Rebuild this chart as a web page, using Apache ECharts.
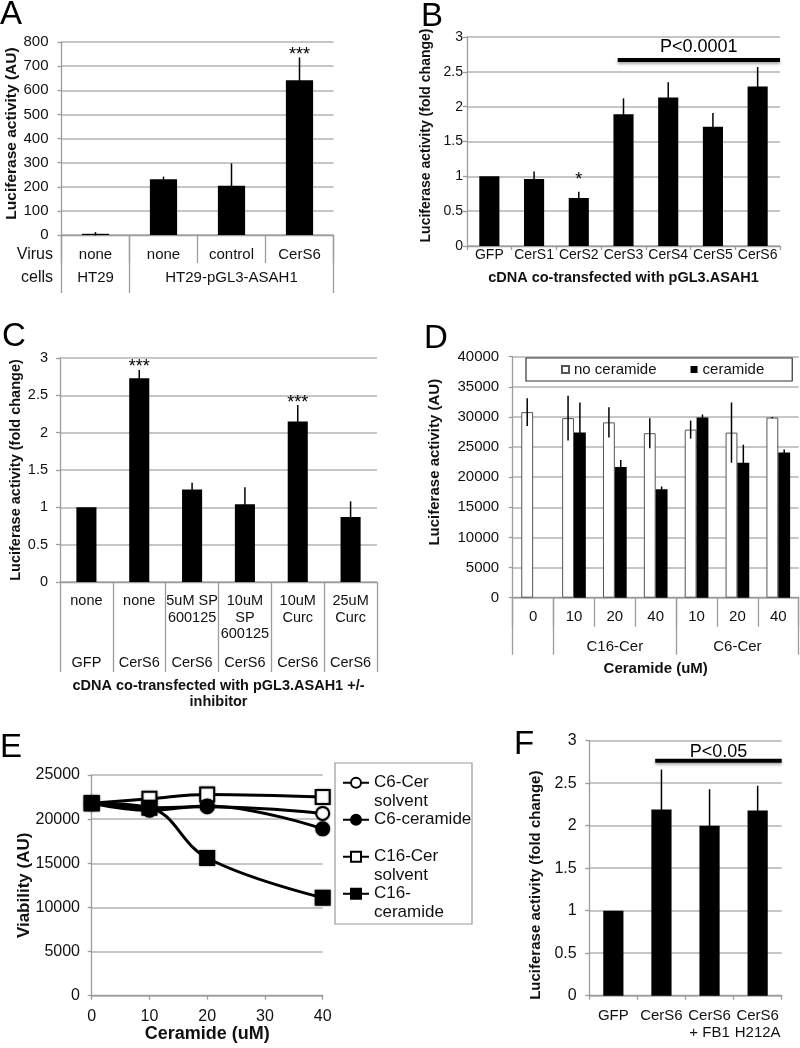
<!DOCTYPE html>
<html><head><meta charset="utf-8">
<script src="https://cdn.jsdelivr.net/npm/echarts@6/dist/echarts.min.js"></script>
<style>html,body{margin:0;padding:0;background:#fff}#c{width:800px;height:1048px}</style>
</head><body><div id="c"></div>
<script>
// ---------------- DATA ----------------
const catA = ['none', 'none', 'control', 'CerS6'];
const cellsA = ['HT29', '', 'HT29-pGL3-ASAH1', ''];
const valA = [5, 231, 204, 641];
const errA = [7, 11, 93, 95];
const starsA = ['', '', '', '***'];

const catB = ['GFP', 'CerS1', 'CerS2', 'CerS3', 'CerS4', 'CerS5', 'CerS6'];
const valB = [1.0, 0.96, 0.69, 1.89, 2.13, 1.71, 2.29];
const errB = [0, 0.11, 0.09, 0.23, 0.22, 0.20, 0.28];
const starsB = ['', '', '*', '', '', '', ''];
const sigB = [3, 6, 2.67, 'P<0.0001'];

const inhibC = ['none', 'none', '5uM SP\n600125', '10uM\nSP\n600125', '10uM\nCurc', '25uM\nCurc'];
const cdnaC = ['GFP', 'CerS6', 'CerS6', 'CerS6', 'CerS6', 'CerS6'];
const valC = [1.0, 2.73, 1.24, 1.04, 2.15, 0.87];
const errC = [0, 0.11, 0.09, 0.23, 0.22, 0.21];
const starsC = ['', '***', '', '', '***', ''];

const doseD = ['0', '10', '20', '40', '10', '20', '40'];
const groupD = ['', '', 'C16-Cer', '', '', 'C6-Cer', ''];
const noCerD = [30800, 29800, 29100, 27300, 27900, 27400, 29900];
const noCerErrD = [2300, 3700, 2500, 2500, 1500, 5000, 100];
const cerD = ['-', 27400, 21700, 18000, 29900, 22400, 24100];
const cerErrD = [0, 5000, 1150, 450, 500, 3000, 500];

const doseE = [0, 10, 20, 40];
const c6SolvE = [21800, 21300, 21400, 20650];
const c6CerE = [21800, 21000, 21500, 18900];
const c16SolvE = [21800, 22300, 22800, 22500];
const c16CerE = [21800, 21300, 15600, 11100];
const legendE = {
  'C6-Cer solvent': '\nC6-Cer\nsolvent',
  'C6-ceramide': '\nC6-ceramide\n ',
  'C16-Cer solvent': '\nC16-Cer\nsolvent',
  'C16-ceramide': '\nC16-\nceramide'
};

const catF = ['GFP', 'CerS6', 'CerS6\n+ FB1', 'CerS6\nH212A'];
const valF = [1.0, 2.19, 2.0, 2.18];
const errF = [0, 0.47, 0.43, 0.29];
const sigF = [1, 3, 2.765, 'P<0.05'];

// ---------------- STYLE ----------------
const FONT = "'Liberation Sans', Arial, sans-serif";
const GRIDC = '#b3b3b3', AXC = '#9c9c9c', TXT = '#111';

function valueAxis(o) {
  return {
    type: 'value', gridIndex: o.grid, min: 0, max: o.max, interval: o.interval,
    axisLine: { show: true, lineStyle: { color: AXC, width: 1.3 } },
    axisTick: { show: true, length: 4, lineStyle: { color: AXC, width: 1.3 } },
    splitLine: { show: o.split !== false, lineStyle: { color: GRIDC, width: 1.5 } },
    axisLabel: { fontSize: o.fs, color: TXT, fontFamily: FONT, margin: o.margin, formatter: v => String(v) },
    name: o.name || '', nameLocation: 'middle', nameRotate: o.nameRotate, nameGap: o.nameGap, nameMoveOverlap: false,
    nameTextStyle: { fontSize: o.nfs, fontWeight: 'bold', color: TXT, fontFamily: FONT, padding: o.namePad || 0, lineHeight: o.nlh }
  };
}
function catAxis(o) {
  return {
    type: 'category', gridIndex: o.grid, data: o.data, position: 'bottom', boundaryGap: true,
    axisLine: { show: o.line !== false, lineStyle: { color: AXC, width: 1.3 } },
    axisTick: { show: o.tickLen > 0, length: o.tickLen || 1, interval: o.tickInterval != null ? o.tickInterval : 0, lineStyle: { color: AXC, width: 1.3 } },
    axisLabel: { interval: 0, margin: o.margin, fontSize: o.fs, lineHeight: o.lh, color: TXT, fontFamily: FONT },
    splitLine: { show: false },
    name: o.name || '', nameLocation: 'middle', nameGap: o.nameGap, nameMoveOverlap: false,
    nameTextStyle: { fontSize: o.nfs, fontWeight: 'bold', color: TXT, fontFamily: FONT, lineHeight: o.nlh }
  };
}
function barSeries(xi, yi, data, width, extra) {
  return Object.assign({
    type: 'bar', xAxisIndex: xi, yAxisIndex: yi, data: data, barWidth: width, barGap: '0%',
    itemStyle: { color: '#000' }, silent: true, z: 3
  }, extra || {});
}
function errSeries(xi, yi, vals, errs, stars, offFrac, starFont, starDy) {
  return {
    type: 'custom', xAxisIndex: xi, yAxisIndex: yi, z: 5, silent: true,
    data: vals.map((v, i) => [i, v]),
    renderItem: function (params, api) {
      const i = params.dataIndex;
      const v = api.value(1);
      if (isNaN(v)) return null;
      const e = errs[i] || 0;
      const bw = api.size([1, 0])[0];
      const pt = api.coord([api.value(0), v + e]);
      const pb = api.coord([api.value(0), v - e]);
      const cx = pt[0] + offFrac * bw;
      const ch = [];
      if (e > 0) ch.push({ type: 'line', shape: { x1: cx, y1: pt[1], x2: cx, y2: pb[1] }, style: { stroke: '#000', lineWidth: 1.5 } });
      if (stars && stars[i]) ch.push({ type: 'text', style: { text: stars[i], x: cx, y: pt[1] + starDy, align: 'center', verticalAlign: 'bottom', font: starFont + 'px ' + FONT, fill: '#000' } });
      return { type: 'group', children: ch };
    }
  };
}
function sigSeries(xi, yi, sig, textDy, fs) {
  return {
    type: 'custom', xAxisIndex: xi, yAxisIndex: yi, z: 6, silent: true,
    encode: { x: 0, y: 2 },
    data: [[sig[0], sig[1], sig[2]]],
    renderItem: function (params, api) {
      const bw = api.size([1, 0])[0];
      const p0 = api.coord([api.value(0), api.value(2)]);
      const p1 = api.coord([api.value(1), api.value(2)]);
      const x0 = p0[0] - 0.13 * bw, x1 = p1[0] + 0.5 * bw;
      return { type: 'group', children: [
        { type: 'line', shape: { x1: x0, y1: p0[1], x2: x1, y2: p0[1] }, style: { stroke: '#000', lineWidth: 4, shadowBlur: 3, shadowColor: 'rgba(0,0,0,0.35)', shadowOffsetY: 2 } },
        { type: 'text', style: { text: sig[3], x: (x0 + x1) / 2, y: p0[1] - textDy, align: 'center', verticalAlign: 'middle', font: fs + 'px ' + FONT, fill: '#000' } }
      ] };
    }
  };
}
function lineE(name, ys, symbol, size, fill) {
  return {
    type: 'line', name: name, xAxisIndex: 7, yAxisIndex: 4, data: doseE.map((x, i) => [x, ys[i]]),
    smooth: 0.4, symbol: symbol, symbolSize: size, showSymbol: true, silent: true, z: 3,
    lineStyle: { color: '#000', width: 3 },
    itemStyle: { color: fill, borderColor: '#000', borderWidth: 2, shadowBlur: 2, shadowColor: 'rgba(0,0,0,0.45)' }
  };
}

const chart = echarts.init(document.getElementById('c'), null, { renderer: 'canvas' });
const letters = [['A', 0, -2], ['B', 421, 0], ['C', 2, 320], ['D', 424, 322], ['E', 0, 731], ['F', 514, 728]];

chart.setOption({
  animation: false,
  backgroundColor: '#fff',
  textStyle: { fontFamily: FONT },
  grid: [
    { left: 61.5, top: 42, width: 272, height: 193 },
    { left: 467, top: 37, width: 313, height: 209 },
    { left: 60, top: 358, width: 317, height: 224 },
    { left: 512.7, top: 356.7, width: 286, height: 241 },
    { left: 91.7, top: 775, width: 231, height: 220.7 },
    { left: 589.3, top: 740.7, width: 192.4, height: 255 }
  ].map(g => Object.assign({ show: false, containLabel: false, outerBoundsMode: 'none' }, g)),
  xAxis: [
    catAxis({ grid: 0, data: catA, tickLen: 28, margin: 12.5, fs: 15 }),
    catAxis({ grid: 0, data: cellsA, line: false, tickLen: 58, tickInterval: (i) => i === 0 || i === 1, margin: 35.5, fs: 15 }),
    catAxis({ grid: 1, data: catB, tickLen: 4, margin: 2, fs: 14, name: 'cDNA co-transfected with pGL3.ASAH1', nameGap: 24, nfs: 14.5 }),
    catAxis({ grid: 2, data: inhibC, tickLen: 90, margin: 10.75, fs: 14.5, lh: 16.5, name: 'cDNA co-transfected with pGL3.ASAH1 +/-\ninhibitor', nameGap: 96, nfs: 14.5, nlh: 16 }),
    catAxis({ grid: 2, data: cdnaC, line: false, tickLen: 0, margin: 73.75, fs: 14.5 }),
    catAxis({ grid: 3, data: doseD, tickLen: 29, margin: 11.8, fs: 15, name: 'Ceramide (uM)', nameGap: 63.8, nfs: 15 }),
    catAxis({ grid: 3, data: groupD, line: false, tickLen: 57, tickInterval: (i) => i === 0 || i === 1 || i === 4, margin: 41.8, fs: 15 }),
    {
      type: 'value', gridIndex: 4, min: 0, max: 40, interval: 10,
      axisLine: { show: true, onZero: false, lineStyle: { color: AXC, width: 1.3 } },
      axisTick: { show: true, length: 4, lineStyle: { color: AXC, width: 1.3 } },
      splitLine: { show: false },
      axisLabel: { fontSize: 16, color: TXT, fontFamily: FONT, margin: 13 },
      name: 'Ceramide (uM)', nameLocation: 'middle', nameGap: 29.8, nameMoveOverlap: false,
      nameTextStyle: { fontSize: 18, fontWeight: 'bold', color: TXT, fontFamily: FONT }
    },
    catAxis({ grid: 5, data: catF, tickLen: 4, margin: 12, fs: 15, lh: 16.7 })
  ],
  yAxis: [
    valueAxis({ grid: 0, max: 800, interval: 100, fs: 15, margin: 13, name: 'Luciferase activity (AU)', nameRotate: 90, nameGap: 42, nfs: 15.5, namePad: [0, 0, 0, 10] }),
    valueAxis({ grid: 1, max: 3, interval: 0.5, fs: 14, margin: 4, name: 'Luciferase activity (fold change)', nameRotate: 90, nameGap: 34, nfs: 14, namePad: [0, 0, 0, 12] }),
    valueAxis({ grid: 2, max: 3, interval: 0.5, fs: 14.5, margin: 12, name: 'Luciferase activity (fold change)', nameRotate: 90, nameGap: 37, nfs: 14.5 }),
    valueAxis({ grid: 3, max: 40000, interval: 5000, fs: 15, margin: 13.5, name: 'Luciferase activity (AU)', nameRotate: 90, nameGap: 70, nfs: 15, namePad: [0, 0, 0, 30] }),
    valueAxis({ grid: 4, max: 25000, interval: 5000, fs: 16, margin: 11.7, name: 'Viability (AU)', nameRotate: 90, nameGap: 59, nfs: 17 }),
    valueAxis({ grid: 5, max: 3, interval: 0.5, fs: 16, margin: 12.6, name: 'Luciferase activity (fold change)', nameRotate: 90, nameGap: 46, nfs: 15, namePad: [0, 34, 0, 0] })
  ],
  legend: [
    {
      data: ['no ceramide', 'ceramide'], left: 526, top: 358, orient: 'horizontal',
      padding: [4, 28, 4, 35], itemGap: 34, itemWidth: 7, itemHeight: 7, icon: 'rect',
      borderColor: '#333', borderWidth: 1.2, backgroundColor: '#fff',
      textStyle: { fontSize: 15, color: TXT, fontFamily: FONT }, selectedMode: false
    },
    {
      data: ['C6-Cer solvent', 'C6-ceramide', 'C16-Cer solvent', 'C16-ceramide'],
      left: 342, top: 755, orient: 'vertical', padding: 0, itemGap: -18.5,
      itemWidth: 26, itemHeight: 12.5, selectedMode: false,
      formatter: n => legendE[n],
      textStyle: { fontSize: 17, lineHeight: 18.5, color: TXT, fontFamily: FONT }
    }
  ],
  graphic: [
    ...letters.map(l => ({ type: 'text', left: l[1], top: l[2], style: { text: l[0], font: '33px ' + FONT, fill: '#000' } })),
    { type: 'text', right: 747, top: 247, style: { text: 'Virus', font: '16px ' + FONT, fill: TXT } },
    { type: 'text', right: 747, top: 270, style: { text: 'cells', font: '16px ' + FONT, fill: TXT } },
    { type: 'rect', shape: { x: 335, y: 763, width: 137, height: 161 }, style: { fill: '#fff', stroke: '#999', lineWidth: 1.2 }, z: -1 }
  ],
  series: [
    // A
    barSeries(0, 0, valA, '40%'),
    errSeries(0, 0, valA, errA, starsA, 0, 18, 6.5),
    // B
    barSeries(2, 1, valB, '45%'),
    errSeries(2, 1, valB, errB, starsB, 0, 18, -3),
    sigSeries(2, 1, sigB, 13, 18),
    // C
    barSeries(3, 2, valC, '38%'),
    errSeries(3, 2, valC, errC, starsC, 0, 18, 6.5),
    // D
    barSeries(5, 3, noCerD, '29%', { name: 'no ceramide', itemStyle: { color: '#fff', borderColor: '#555', borderWidth: 1 } }),
    barSeries(5, 3, cerD, '29%', { name: 'ceramide', itemStyle: { color: '#000' } }),
    errSeries(5, 3, noCerD, noCerErrD, null, -0.145, 15, 0),
    errSeries(5, 3, cerD, cerErrD, null, 0.145, 15, 0),
    // E
    lineE('C6-Cer solvent', c6SolvE, 'circle', 13, '#fff'),
    lineE('C16-Cer solvent', c16SolvE, 'rect', 14, '#fff'),
    lineE('C6-ceramide', c6CerE, 'circle', 13, '#000'),
    lineE('C16-ceramide', c16CerE, 'rect', 14, '#000'),
    // F
    barSeries(8, 5, valF, '42%'),
    errSeries(8, 5, valF, errF, null, 0, 15, 0),
    sigSeries(8, 5, sigF, 9, 18)
  ]
});
</script>
</body></html>
